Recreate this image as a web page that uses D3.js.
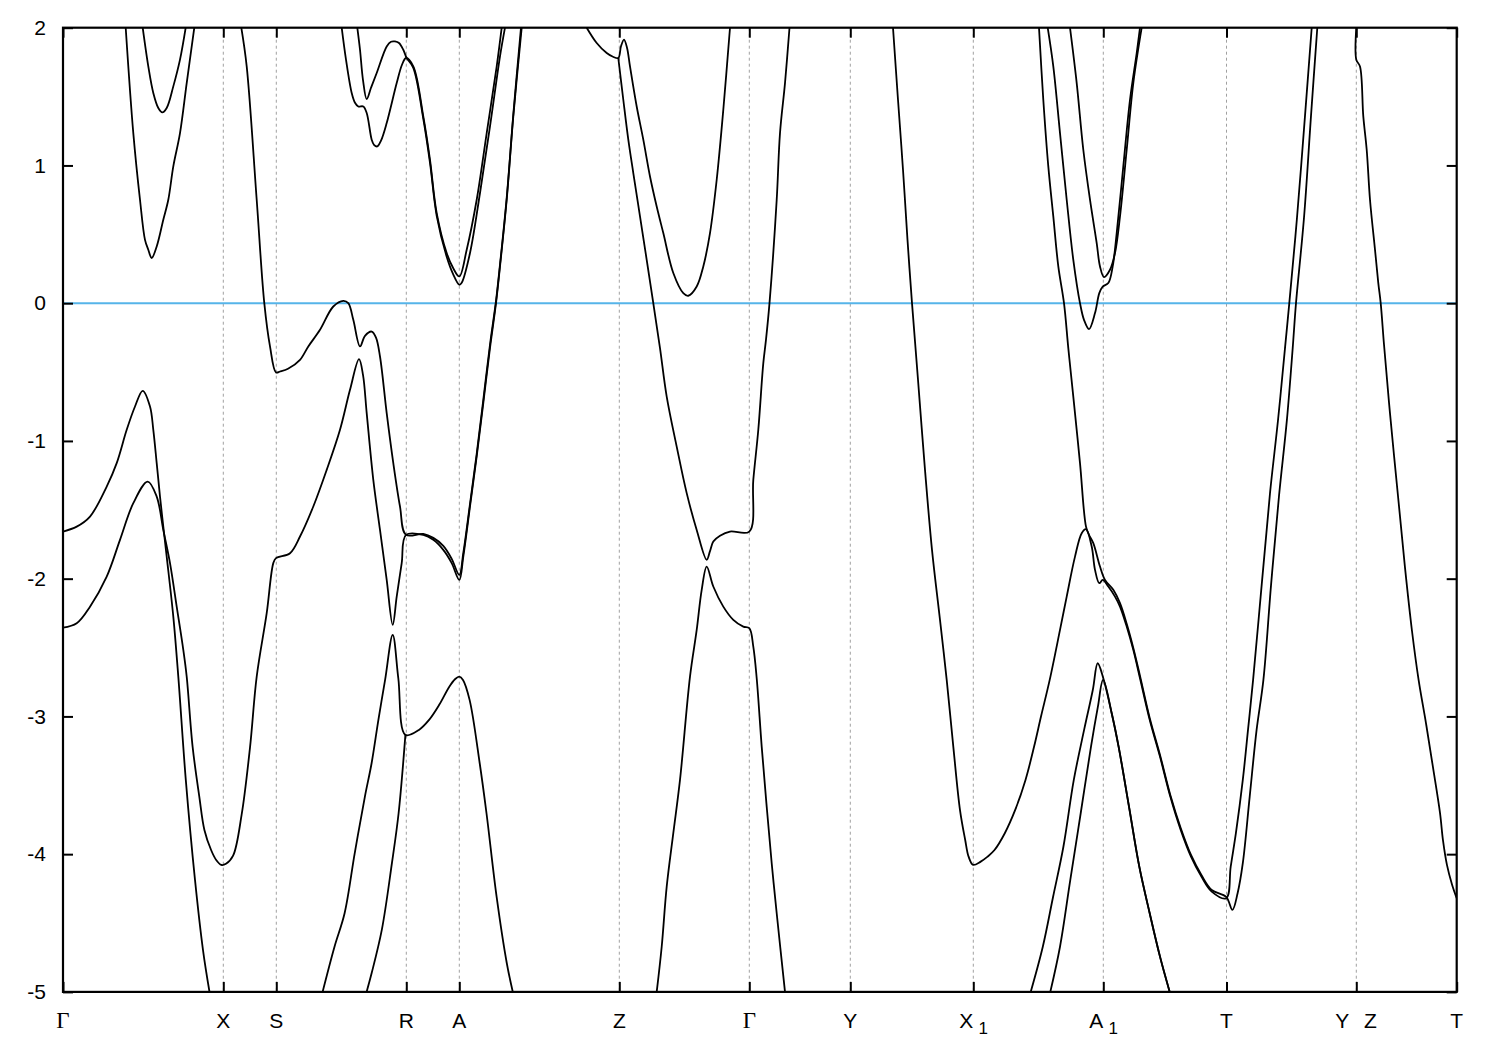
<!DOCTYPE html>
<html><head><meta charset="utf-8">
<script src="https://cdn.jsdelivr.net/npm/d3@7"></script>
<style>body{margin:0;background:#fff;} svg{display:block;}</style>
</head><body>
<svg id="chart" width="1500" height="1050"></svg>
<script>
// ---- k-path (high-symmetry points) ----
const kLabels = ["Γ","X","S","R","A","Z","Γ","Y","X_1","A_1","T","Y|Z","T"];
const kPositions = [0,1.603,2.133,3.433,3.963,5.563,6.863,7.873,9.103,10.403,11.635,12.933,13.937];
const energyTicks = [2,1,0,-1,-2,-3,-4,-5];
const fermiLevel = 0;

// ---- bands: [k, E(eV)] ----
const bandV1 = [[0,-2.355],[0.137,-2.323],[0.27,-2.203],[0.437,-1.985],[0.57,-1.718],[0.703,-1.452],[0.847,-1.295],[0.937,-1.404],[1.003,-1.646],[1.07,-1.887],[1.137,-2.203],[1.203,-2.517],[1.237,-2.711],[1.296,-3.219],[1.363,-3.582],[1.414,-3.824],[1.481,-3.970],[1.53,-4.04],[1.583,-4.078],[1.63,-4.07],[1.701,-4.011],[1.786,-3.715],[1.87,-3.226],[1.937,-2.711],[2.037,-2.251],[2.103,-1.887],[2.13,-1.851],[2.27,-1.815],[2.37,-1.694],[2.503,-1.476],[2.637,-1.210],[2.77,-0.919],[2.87,-0.629],[2.96,-0.406],[3.0,-0.52],[3.037,-0.798],[3.103,-1.283],[3.17,-1.646],[3.237,-2.009],[3.297,-2.335],[3.337,-2.130],[3.387,-1.887],[3.43,-1.682],[3.603,-1.682],[3.703,-1.718],[3.803,-1.791],[3.887,-1.887],[3.963,-2.009],[4.003,-1.840],[4.07,-1.476],[4.137,-1.113],[4.203,-0.725],[4.27,-0.324],[4.33,0.0],[4.37,0.267],[4.437,0.751],[4.503,1.356],[4.587,2.0]];
const bandV2 = [[0,-1.658],[0.137,-1.622],[0.27,-1.549],[0.437,-1.331],[0.537,-1.161],[0.637,-0.919],[0.72,-0.750],[0.797,-0.636],[0.87,-0.750],[0.903,-0.919],[0.937,-1.161],[0.97,-1.404],[1.003,-1.622],[1.037,-1.840],[1.103,-2.275],[1.153,-2.711],[1.228,-3.461],[1.32,-4.187],[1.40,-4.696],[1.465,-5.0]];
const bandS = [[1.783,2.0],[1.837,1.719],[1.937,0.751],[2.013,0.0],[2.07,-0.314],[2.13,-0.503],[2.17,-0.496],[2.25,-0.476],[2.37,-0.411],[2.453,-0.314],[2.57,-0.193],[2.703,-0.024],[2.803,0.017],[2.853,0.0],[2.903,-0.121],[2.97,-0.314],[3.02,-0.237],[3.087,-0.206],[3.13,-0.25],[3.17,-0.387],[3.237,-0.798],[3.303,-1.161],[3.37,-1.476],[3.43,-1.682],[3.603,-1.675],[3.703,-1.704],[3.803,-1.762],[3.887,-1.856],[3.963,-1.973],[4.003,-1.813],[4.07,-1.457],[4.137,-1.094],[4.203,-0.702],[4.27,-0.30],[4.33,0.017],[4.37,0.281],[4.437,0.765],[4.503,1.370],[4.58,2.0]];
const bandC1 = [[0.627,2.0],[0.703,1.235],[0.77,0.751],[0.82,0.460],[0.853,0.388],[0.887,0.328],[0.937,0.412],[1.003,0.606],[1.053,0.751],[1.103,0.993],[1.17,1.235],[1.237,1.598],[1.313,2.0]];
const bandC2 = [[0.797,2.0],[0.853,1.719],[0.903,1.526],[0.953,1.417],[0.993,1.385],[1.037,1.417],[1.103,1.574],[1.17,1.768],[1.227,2.0]];
const bandRa = [[2.787,2.0],[2.83,1.768],[2.887,1.526],[2.92,1.455],[2.953,1.428],[3.003,1.428],[3.037,1.381],[3.087,1.187],[3.11,1.15],[3.143,1.138],[3.18,1.18],[3.237,1.308],[3.337,1.598],[3.39,1.731],[3.43,1.780],[3.503,1.719],[3.603,1.356],[3.67,1.041],[3.737,0.654],[3.837,0.364],[3.90,0.257],[3.963,0.194],[4.037,0.388],[4.137,0.751],[4.237,1.235],[4.337,1.719],[4.387,2.0]];
const bandRb = [[2.943,2.0],[2.97,1.84],[3.0,1.62],[3.037,1.482],[3.08,1.564],[3.137,1.671],[3.237,1.864],[3.28,1.898],[3.32,1.900],[3.36,1.889],[3.403,1.840],[3.437,1.780],[3.503,1.709],[3.603,1.339],[3.67,1.019],[3.737,0.635],[3.837,0.337],[3.90,0.213],[3.963,0.134],[3.987,0.148],[4.07,0.364],[4.17,0.800],[4.27,1.283],[4.37,1.792],[4.42,2.0]];
const bandL1 = [[2.596,-5.0],[2.715,-4.672],[2.816,-4.429],[2.917,-3.994],[3.019,-3.582],[3.086,-3.340],[3.154,-3.025],[3.221,-2.735],[3.297,-2.408],[3.353,-2.723],[3.424,-3.134],[3.559,-3.098],[3.661,-3.025],[3.762,-2.916],[3.863,-2.784],[3.92,-2.73],[3.963,-2.711],[4.0,-2.735],[4.066,-2.880],[4.167,-3.340],[4.235,-3.703],[4.336,-4.309],[4.438,-4.792],[4.498,-5.0]];
const bandL2 = [[3.036,-5.0],[3.086,-4.865],[3.188,-4.550],[3.289,-4.066],[3.356,-3.703],[3.424,-3.134]];
const bandZ1 = [[5.237,2.0],[5.337,1.889],[5.437,1.816],[5.50,1.789],[5.553,1.780],[5.58,1.865],[5.61,1.913],[5.64,1.855],[5.67,1.719],[5.737,1.428],[5.803,1.187],[5.87,0.920],[5.937,0.702],[6.003,0.509],[6.103,0.219],[6.203,0.073],[6.253,0.054],[6.337,0.121],[6.403,0.267],[6.47,0.509],[6.537,0.896],[6.603,1.404],[6.67,2.0]];
const bandZ2 = [[5.553,1.780],[5.603,1.477],[5.653,1.187],[5.703,0.945],[5.77,0.630],[5.837,0.315],[5.903,0.0],[5.97,-0.326],[6.037,-0.678],[6.137,-1.041],[6.237,-1.379],[6.337,-1.646],[6.437,-1.863],[6.47,-1.80],[6.503,-1.731],[6.57,-1.689],[6.67,-1.658],[6.863,-1.658],[6.903,-1.283],[6.953,-0.919],[7.003,-0.435],[7.03,-0.265],[7.065,0.0],[7.137,0.751],[7.17,1.235],[7.22,1.598],[7.265,2.0]];
const bandZ3 = [[5.937,-5.0],[5.987,-4.672],[6.037,-4.236],[6.103,-3.848],[6.17,-3.461],[6.27,-2.711],[6.337,-2.372],[6.387,-2.081],[6.437,-1.912],[6.503,-2.057],[6.603,-2.203],[6.703,-2.299],[6.803,-2.348],[6.863,-2.359],[6.903,-2.493],[6.937,-2.723],[6.987,-3.219],[7.037,-3.655],[7.087,-4.066],[7.137,-4.429],[7.22,-5.0]];
const bandY1 = [[8.30,2.0],[8.35,1.477],[8.40,0.969],[8.445,0.460],[8.49,0.0],[8.55,-0.556],[8.62,-1.210],[8.69,-1.791],[8.77,-2.299],[8.837,-2.735],[8.903,-3.219],[8.97,-3.680],[9.022,-3.897],[9.056,-4.018],[9.101,-4.078],[9.177,-4.054],[9.246,-4.018],[9.315,-3.970],[9.418,-3.848],[9.522,-3.679],[9.625,-3.461],[9.711,-3.219],[9.78,-3.001],[9.867,-2.735],[9.97,-2.372],[10.037,-2.130],[10.12,-1.840],[10.187,-1.670],[10.23,-1.641],[10.287,-1.767],[10.32,-1.936],[10.363,-2.033],[10.397,-2.009],[10.453,-2.057],[10.52,-2.130],[10.57,-2.203],[10.637,-2.348],[10.703,-2.517],[10.77,-2.723],[10.867,-3.025],[10.97,-3.292],[11.073,-3.582],[11.177,-3.824],[11.28,-4.018],[11.384,-4.163],[11.487,-4.272],[11.632,-4.320],[11.677,-4.091],[11.729,-3.848],[11.798,-3.461],[11.85,-3.098],[11.901,-2.735],[11.99,-2.02],[12.07,-1.38],[12.15,-0.85],[12.22,-0.326],[12.263,0.0],[12.34,0.62],[12.42,1.36],[12.487,2.0]];
const bandG = [[9.76,2.0],[9.803,1.477],[9.853,0.993],[9.903,0.630],[9.953,0.267],[10.01,0.0],[10.053,-0.326],[10.103,-0.678],[10.17,-1.161],[10.23,-1.622],[10.26,-1.682],[10.303,-1.742],[10.37,-1.912],[10.42,-2.009],[10.503,-2.081],[10.57,-2.178],[10.637,-2.328],[10.703,-2.503],[10.77,-2.706],[10.867,-3.011],[10.97,-3.28],[11.073,-3.57],[11.177,-3.81],[11.28,-4.006],[11.384,-4.151],[11.487,-4.26],[11.632,-4.31],[11.694,-4.405],[11.746,-4.284],[11.798,-4.066],[11.867,-3.582],[11.936,-3.098],[12.004,-2.735],[12.08,-2.05],[12.16,-1.40],[12.24,-0.84],[12.297,-0.326],[12.33,0.0],[12.41,0.62],[12.48,1.36],[12.543,2.0]];
const bandD = [[9.847,2.0],[9.903,1.719],[9.97,1.235],[10.037,0.751],[10.103,0.315],[10.17,0.0],[10.21,-0.121],[10.26,-0.188],[10.32,-0.072],[10.363,0.073],[10.397,0.121],[10.453,0.146],[10.497,0.267],[10.537,0.509],[10.603,0.993],[10.67,1.477],[10.737,1.816],[10.77,2.0]];
const bandE = [[10.07,2.0],[10.137,1.598],[10.203,1.114],[10.27,0.751],[10.337,0.436],[10.37,0.267],[10.41,0.190],[10.47,0.243],[10.52,0.364],[10.57,0.630],[10.637,1.114],[10.703,1.598],[10.787,2.0]];
const bandLa = [[9.677,-5.0],[9.798,-4.672],[9.901,-4.309],[10.004,-3.946],[10.108,-3.461],[10.211,-3.098],[10.298,-2.808],[10.347,-2.614],[10.403,-2.723],[10.487,-2.977],[10.556,-3.219],[10.66,-3.655],[10.763,-4.091],[10.867,-4.429],[10.97,-4.744],[11.067,-5.0]];
const bandLb = [[9.873,-5.0],[9.97,-4.672],[10.073,-4.187],[10.177,-3.703],[10.28,-3.219],[10.349,-2.929],[10.401,-2.735],[10.487,-2.977],[10.556,-3.219],[10.66,-3.655],[10.763,-4.091],[10.867,-4.429],[10.97,-4.744],[11.067,-5.0]];
const bandZT = [[12.933,2.0],[12.933,1.768],[12.97,1.719],[13.003,1.356],[13.037,1.114],[13.07,0.751],[13.12,0.388],[13.153,0.146],[13.177,0.0],[13.21,-0.30],[13.27,-0.80],[13.35,-1.40],[13.42,-1.92],[13.49,-2.38],[13.556,-2.735],[13.63,-3.05],[13.70,-3.37],[13.77,-3.70],[13.80,-3.90],[13.84,-4.08],[13.89,-4.22],[13.937,-4.32]];

const bands = [bandV1,bandV2,bandS,bandC1,bandC2,bandRa,bandRb,bandL1,bandL2,bandZ1,bandZ2,bandZ3,bandY1,bandG,bandD,bandE,bandLa,bandLb,bandZT];

// ---- drawing ----
const svg = d3.select("#chart");
const X0 = 63, X1 = 1456.7, Y0 = 27.7, Y1 = 991.9;
const x = d3.scaleLinear().domain([0, 13.937]).range([X0, X1]);
const y = d3.scaleLinear().domain([-5, 2]).range([Y1, Y0]);

svg.append("rect").attr("width",1500).attr("height",1050).attr("fill","#fff");

svg.append("defs").append("clipPath").attr("id","plotclip")
  .append("rect").attr("x",X0).attr("y",Y0).attr("width",X1-X0).attr("height",Y1-Y0);

// vertical dashed lines at interior k-points
svg.append("g").selectAll("line").data(kPositions.slice(1,-1)).join("line")
  .attr("x1",d=>x(d)).attr("x2",d=>x(d)).attr("y1",Y0).attr("y2",Y1)
  .attr("stroke","#a0a0a0").attr("stroke-width",1).attr("stroke-dasharray","3,3");

// Fermi level
svg.append("line").attr("x1",X0).attr("x2",X1).attr("y1",y(fermiLevel)).attr("y2",y(fermiLevel))
  .attr("stroke","#56b4e9").attr("stroke-width",2);

// bands
const line = d3.line().x(d=>x(d[0])).y(d=>y(d[1])).curve(d3.curveCatmullRom.alpha(0.5));
svg.append("g").attr("clip-path","url(#plotclip)").selectAll("path").data(bands).join("path")
  .attr("d",line).attr("fill","none").attr("stroke","#000").attr("stroke-width",1.8)
  .attr("stroke-linejoin","round");

// axes (ticks inward)
const fmt = d => String(d);
const yl = svg.append("g").attr("transform",`translate(${X0},0)`)
  .call(d3.axisLeft(y).tickValues(energyTicks).tickSize(-10).tickPadding(17).tickFormat(fmt));
const yr = svg.append("g").attr("transform",`translate(${X1},0)`)
  .call(d3.axisRight(y).tickValues(energyTicks).tickSize(-10).tickFormat(""));
const xb = svg.append("g").attr("transform",`translate(0,${Y1})`)
  .call(d3.axisBottom(x).tickValues(kPositions).tickSize(-10).tickFormat(""));
const xt = svg.append("g").attr("transform",`translate(0,${Y0})`)
  .call(d3.axisTop(x).tickValues(kPositions).tickSize(-10).tickFormat(""));
[yl,yr,xb,xt].forEach(g=>{
  g.select(".domain").remove();
  g.selectAll(".tick line").attr("stroke","#000").attr("stroke-width",2);
});
yl.selectAll(".tick text").attr("font-family","'Liberation Sans',Arial,sans-serif")
  .attr("font-size",21).attr("fill","#000");

// frame
svg.append("rect").attr("x",X0).attr("y",Y0).attr("width",X1-X0).attr("height",Y1-Y0)
  .attr("fill","none").attr("stroke","#000").attr("stroke-width",2.2);

// k-point labels
const lab = svg.append("g").attr("font-family","'Liberation Sans',Arial,sans-serif")
  .attr("font-size",21).attr("fill","#000");
kLabels.forEach((t,i)=>{
  const px = x(kPositions[i]);
  const by = 1028;
  if (t === "Γ") {
    lab.append("text").attr("x",px).attr("y",by).attr("text-anchor","middle")
      .attr("font-family","'Liberation Serif','DejaVu Serif',serif").attr("font-size",23).text("Γ");
  } else if (t.includes("_")) {
    const [m,s] = t.split("_");
    lab.append("text").attr("x",px-7).attr("y",by).attr("text-anchor","middle").text(m);
    lab.append("text").attr("x",px+10).attr("y",by+6).attr("text-anchor","middle").attr("font-size",17).text(s);
  } else if (t.includes("|")) {
    const [a,b] = t.split("|");
    lab.append("text").attr("x",px-14).attr("y",by).attr("text-anchor","middle").text(a);
    lab.append("text").attr("x",px+14).attr("y",by).attr("text-anchor","middle").text(b);
  } else {
    lab.append("text").attr("x",px).attr("y",by).attr("text-anchor","middle").text(t);
  }
});
</script>
</body></html>
